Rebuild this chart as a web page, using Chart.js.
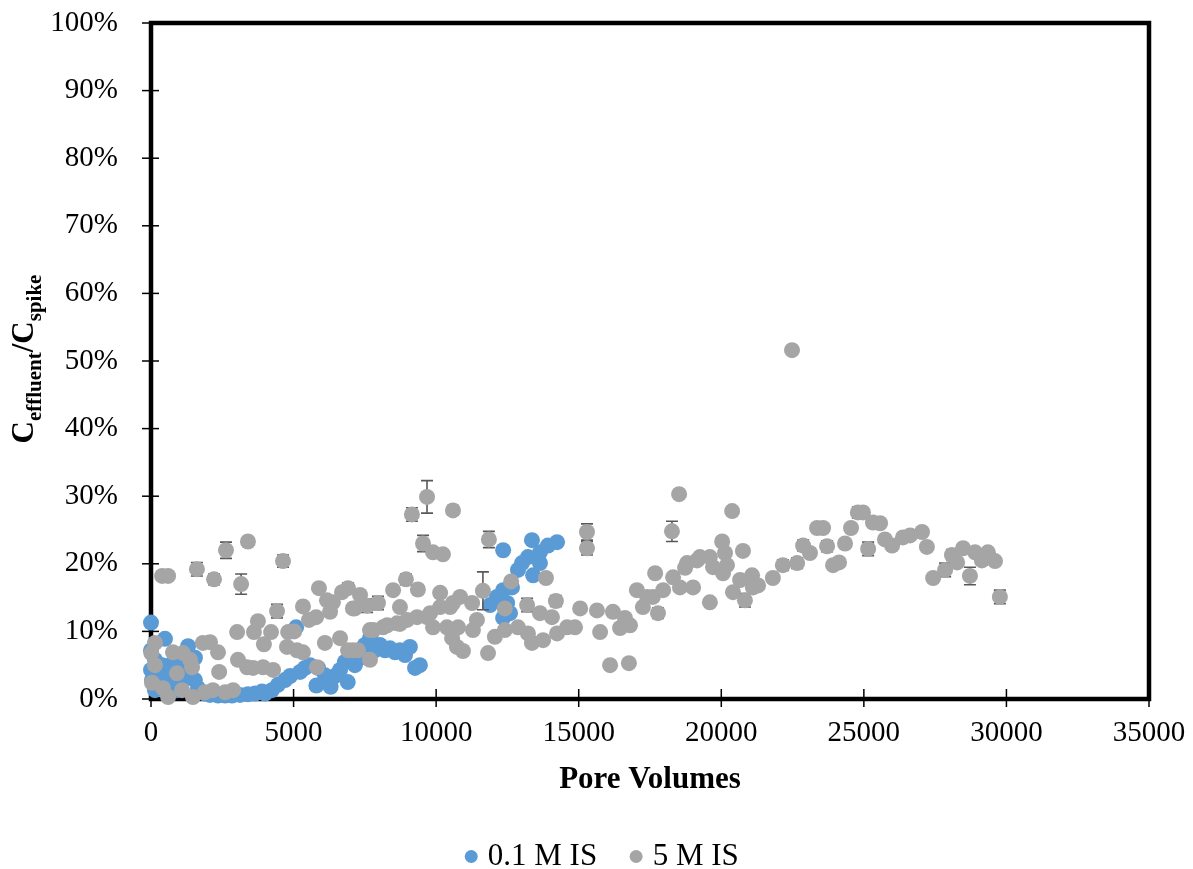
<!DOCTYPE html>
<html>
<head>
<meta charset="utf-8">
<script src="https://cdn.jsdelivr.net/npm/chart.js@4/dist/chart.umd.min.js"></script>
<style>
  html, body { margin: 0; padding: 0; background: #ffffff; }
  #wrap { width: 1193px; height: 869px; }
</style>
</head>
<body>
<div id="wrap"><canvas id="chart" width="1193" height="869"></canvas></div>
<script>
// Series names shown in the legend
const seriesNames = ['0.1 M IS', '5 M IS'];

// 0.1 M ionic strength: pore volumes and C/C0 (%)
const lowIS_x = [0, 0, 0, 35, 140, 140, 245, 245, 320, 390, 490, 600, 670, 770, 840, 910, 1020, 1120, 1190, 1300,
  1370, 1540, 1540, 1650, 1720, 1890, 2070, 2350, 2600, 2840, 3120, 3400, 3650, 3890, 4000, 4240, 4450, 4700, 4880, 5090,
  5230, 5400, 5580, 5800, 5860, 6100, 6280, 6300, 6450, 6630, 6800, 6900, 6980, 7150, 7330, 7500, 7680, 7750, 7850, 8030,
  8210, 8380, 8560, 8730, 8910, 9080, 9260, 9430,
  11890, 12130, 12350, 12350, 12490, 12590, 12350, 12660, 12870, 13010, 13220, 13400, 13640, 13640, 13360, 13920, 14240];
const lowIS_y = [11.3, 7.2, 4.3, 2.8, 5.8, 1.3, 4.3, 2.1, 3.1, 5.0, 8.9, 2.1, 5.0, 3.5, 5.8, 1.3, 4.6, 2.8, 3.5, 7.8,
  5.0, 6.1, 2.8, 1.6, 1.1, 0.8, 0.6, 0.5, 0.5, 0.5, 0.6, 0.7, 0.8, 1.1, 0.8, 1.3, 2.1, 2.8, 3.4, 10.6,
  4.0, 4.6, 5.0, 2.0, 4.6, 3.5, 2.8, 1.8, 3.4, 4.3, 5.5, 2.5, 5.8, 5.0, 6.1, 8.0, 9.0, 9.9, 7.2, 8.0,
  7.2, 7.5, 6.9, 7.2, 6.5, 7.7, 4.6, 5.0,
  13.9, 15.1, 16.1, 12.0, 14.2, 12.7, 22.0, 16.5, 19.1, 20.1, 21.0, 18.3, 20.1, 21.7, 23.5, 22.7, 23.2];

// 5 M ionic strength: pore volumes, C/C0 (%) and error (± %)
const highIS_x = [10, 35, 140, 140, 390, 420, 600, 600, 770, 910, 1090, 1120, 1370, 1440, 1470, 1610, 1820, 1890, 2070, 2170,
  2210, 2350, 2390, 2600, 2630, 2880, 3020, 3050, 3160, 3370, 3400, 3580, 3610, 3750, 3930, 3960, 4210, 4280, 4420, 4630,
  4770, 4810, 5020, 5120, 5330, 5330, 5540, 5790, 5820, 5890, 6100, 6170, 6280, 6380, 6630, 6700, 6910, 6910, 7080, 7080,
  7150, 7260, 7330, 7580, 7680, 7680, 7790, 7960, 8140, 8280, 8490, 8630, 8730, 8730, 8940, 8980, 9150, 9330, 9360, 9540,
  9680, 9680, 9790, 9890, 9890, 10140, 10140, 10240, 10380, 10490, 10560, 10590, 10590, 10730, 10770, 10840, 10940, 11260, 11290, 11430,
  11640, 11820, 11850, 12060, 12410, 12410, 12630, 12870, 13190, 13220, 13360, 13640, 13750, 13850, 14060, 14200, 14240, 14590, 14870, 15050,
  15290, 15290, 15640, 15750, 16100, 16200, 16450, 16620, 16760, 16800, 17040, 17250, 17400, 17600, 17680, 17780, 17960, 18270, 18310, 18520,
  18550, 18730, 18800, 19010, 19150, 19250, 19600, 19600, 19710, 20030, 20060, 20130, 20200, 20380, 20410, 20660, 20760, 20830, 21080, 21110,
  21290, 21810, 22160, 22480, 22660, 22870, 23110, 23360, 23570, 23710, 23920, 24130, 24340, 24550, 24790, 24970, 25150, 25320, 25570, 25740,
  25990, 26370, 26620, 27040, 27210, 27430, 27850, 28090, 28270, 28480, 28720, 28900, 29140, 29350, 29600, 29770];
const highIS_y = [6.8, 2.4, 8.3, 5.0, 18.2, 1.6, 18.2, 0.3, 6.9, 3.8, 1.3, 6.8, 5.8, 4.7, 0.3, 19.2, 8.3, 1.0, 8.4, 1.3,
  17.7, 6.9, 4.0, 1.0, 22.0, 1.3, 9.9, 5.8, 17.0, 4.7, 23.3, 4.6, 9.9, 11.5, 4.7, 8.1, 9.9, 4.3, 13.0, 20.4,
  7.7, 9.9, 10.0, 7.2, 6.9, 13.7, 11.7, 12.1, 4.7, 16.4, 8.3, 14.6, 12.9, 14.3, 9.0, 15.8, 16.4, 7.2, 13.4, 7.2,
  13.4, 7.2, 15.4, 13.8, 10.2, 5.8, 10.2, 14.2, 10.6, 10.9, 16.1, 11.2, 13.6, 11.1, 17.7, 11.7, 27.3, 12.1, 16.2, 23.0,
  29.9, 12.1, 12.7, 21.7, 10.6, 13.6, 15.7, 21.4, 10.6, 13.6, 9.0, 27.9, 14.2, 7.7, 10.6, 15.1, 7.1, 14.2, 10.2, 11.7,
  16.0, 6.8, 23.6, 9.2, 13.4, 10.2, 17.4, 10.6, 13.9, 9.7, 8.3, 12.7, 8.7, 17.9, 12.1, 14.5, 9.7, 10.6, 10.6, 13.4,
  24.7, 22.3, 13.1, 9.9, 5.0, 12.9, 10.5, 12.0, 5.3, 10.9, 16.1, 13.6, 15.1, 15.1, 18.6, 12.7, 16.1, 24.8, 18.0, 30.3,
  16.5, 19.4, 20.1, 16.5, 20.5, 21.0, 21.0, 14.3, 19.5, 23.3, 18.6, 21.6, 19.8, 27.8, 15.8, 17.6, 21.9, 14.6, 18.3, 16.5,
  16.8, 17.9, 19.8, 51.6, 20.1, 22.7, 21.6, 25.3, 25.3, 22.6, 19.8, 20.2, 23.0, 25.3, 27.6, 27.6, 22.2, 26.1, 26.0, 23.6,
  22.7, 23.9, 24.2, 24.7, 22.5, 17.9, 19.1, 21.3, 20.2, 22.3, 18.2, 21.7, 20.5, 21.7, 20.4, 15.1];
const highIS_err = [0, 0, 0, 0, 0, 0, 0, 0, 0, 0, 0, 0, 0, 0, 0, 1.0, 0, 0, 0, 0.4,
  0.8, 0, 0, 0, 1.2, 0, 0, 0, 1.5, 0, 0, 0, 0, 0, 0, 0, 0, 0, 1.0, 0.9,
  0, 0, 0, 0, 0, 0, 0, 0, 0.5, 0, 0, 0, 0, 0, 0, 0, 0.8, 0, 0, 0,
  0, 0, 0, 1.0, 0, 0, 0, 1.0, 0, 0, 0, 0, 0, 0, 0.8, 0, 1.0, 0, 0, 1.2,
  2.4, 0, 0, 0, 0, 0, 0, 0, 0, 0, 0, 0.7, 0, 0, 0, 0, 0, 0, 0, 0,
  2.8, 0, 1.2, 0, 0, 0, 0, 0, 1.0, 0, 0, 0, 0, 0, 0, 0.8, 0, 0, 0, 0,
  1.2, 1.0, 0, 0, 0, 0, 0, 0, 0, 0, 0, 0, 0, 0, 0, 0.8, 0, 1.5, 0, 0,
  0, 0, 0, 0, 0, 0, 0, 0, 0, 0, 0, 0, 0, 0, 0, 0, 0, 1.0, 0, 0,
  0, 0, 0.8, 0, 0.8, 0.8, 0, 0, 0, 0.8, 0, 0.6, 0, 0, 0.8, 0, 1.0, 0, 0, 0,
  0, 0, 0, 0.6, 0, 0, 1.0, 0.8, 0, 0, 1.3, 0, 0.7, 0, 0, 1.0];

// Axis tick values
const xTicks = [0, 5000, 10000, 15000, 20000, 25000, 30000, 35000];
const yTicks = [0, 10, 20, 30, 40, 50, 60, 70, 80, 90, 100];

const FONT = '"Liberation Serif", "Times New Roman", serif';
const BLUE = '#5B9BD5';
const GREY = '#A5A5A5';

const toPoints = (xs, ys) => xs.map((x, i) => ({ x: x, y: ys[i] }));

// Plot frame and tick marks that cross the axis lines
const framePlugin = {
  id: 'frame',
  beforeDatasetsDraw(chart) {
    const { ctx, chartArea: a, scales } = chart;
    ctx.save();
    ctx.strokeStyle = '#000';
    ctx.lineWidth = 1.5;
    yTicks.forEach(v => {
      const py = scales.y.getPixelForValue(v);
      ctx.beginPath(); ctx.moveTo(a.left - 9, py); ctx.lineTo(a.left + 8, py); ctx.stroke();
    });
    xTicks.forEach(v => {
      const px = scales.x.getPixelForValue(v);
      ctx.beginPath(); ctx.moveTo(px, a.bottom - 10); ctx.lineTo(px, a.bottom + 8); ctx.stroke();
    });
    ctx.lineWidth = 4.5;
    ctx.strokeRect(a.left, a.top, a.right - a.left, a.bottom - a.top);
    ctx.restore();
  }
};

// Vertical error bars with caps, drawn under the 5 M IS markers
const errorBarPlugin = {
  id: 'errorBars',
  beforeDatasetDraw(chart, args) {
    if (args.index !== 1) return;
    const { ctx, scales } = chart;
    ctx.save();
    ctx.strokeStyle = '#595959';
    ctx.lineWidth = 1.6;
    highIS_err.forEach((e, i) => {
      if (!e) return;
      const px = scales.x.getPixelForValue(highIS_x[i]);
      const y1 = scales.y.getPixelForValue(highIS_y[i] + e);
      const y2 = scales.y.getPixelForValue(highIS_y[i] - e);
      ctx.beginPath();
      ctx.moveTo(px, y1); ctx.lineTo(px, y2);
      ctx.moveTo(px - 6, y1); ctx.lineTo(px + 6, y1);
      ctx.moveTo(px - 6, y2); ctx.lineTo(px + 6, y2);
      ctx.stroke();
    });
    ctx.restore();
  }
};

// Y-axis title with subscripts: C_effluent / C_spike
const yTitlePlugin = {
  id: 'yTitle',
  afterDraw(chart) {
    const { ctx } = chart;
    const big = 'bold 31px ' + FONT;
    const small = 'bold 21px ' + FONT;
    const parts = [['C', big, 0], ['effluent', small, 8], ['/C', big, 0], ['spike', small, 8]];
    ctx.save();
    let total = 0;
    parts.forEach(p => { ctx.font = p[1]; p.push(ctx.measureText(p[0]).width); total += p[3]; });
    ctx.translate(33, 359);
    ctx.rotate(-Math.PI / 2);
    ctx.fillStyle = '#000';
    ctx.textBaseline = 'alphabetic';
    ctx.textAlign = 'left';
    let cx = -total / 2;
    parts.forEach(p => { ctx.font = p[1]; ctx.fillText(p[0], cx, p[2]); cx += p[3]; });
    ctx.restore();
  }
};

// Place the legend row below the axis title
const legendPlacePlugin = {
  id: 'legendPlace',
  afterLayout(chart) {
    const lg = chart.legend;
    if (!lg) return;
    lg.top = 803;
    lg.bottom = 869;
    lg.height = lg.bottom - lg.top;
    const dx = 30;
    lg.left += dx; lg.right += dx;
  }
};

new Chart(document.getElementById('chart'), {
  type: 'scatter',
  data: {
    datasets: [
      {
        label: seriesNames[0],
        data: toPoints(lowIS_x, lowIS_y),
        backgroundColor: BLUE, borderColor: BLUE, borderWidth: 0,
        pointRadius: 8, pointHoverRadius: 8, order: 1, clip: false
      },
      {
        label: seriesNames[1],
        data: toPoints(highIS_x, highIS_y),
        backgroundColor: GREY, borderColor: GREY, borderWidth: 0,
        pointRadius: 8, pointHoverRadius: 8, order: 0, clip: false
      }
    ]
  },
  options: {
    responsive: false,
    animation: false,
    devicePixelRatio: 1,
    events: [],
    layout: { autoPadding: false, padding: { top: 23, right: 44, left: 0, bottom: 0 } },
    scales: {
      x: {
        type: 'linear', min: 0, max: 35000,
        afterFit: s => { s.height = 130; s.paddingLeft = 0; s.paddingRight = 0; },
        afterBuildTicks: s => { s.ticks = xTicks.map(v => ({ value: v })); },
        grid: { display: false, drawTicks: false, tickLength: 0 },
        border: { display: false },
        ticks: {
          color: '#000', font: { family: FONT, size: 29 }, padding: 17,
          maxRotation: 0, autoSkip: false, callback: v => String(v)
        },
        title: {
          display: true, text: 'Pore Volumes', color: '#000',
          font: { family: FONT, size: 31, weight: 'bold' },
          padding: { top: 0, bottom: 30 }
        }
      },
      y: {
        type: 'linear', min: 0, max: 100,
        afterFit: s => { s.width = 151; s.paddingTop = 0; s.paddingBottom = 0; },
        afterBuildTicks: s => { s.ticks = yTicks.map(v => ({ value: v })); },
        grid: { display: false, drawTicks: false, tickLength: 0 },
        border: { display: false },
        ticks: {
          color: '#000', font: { family: FONT, size: 29 }, padding: 33,
          autoSkip: false, callback: v => v + '%'
        }
      }
    },
    plugins: {
      tooltip: { enabled: false },
      legend: {
        display: true, position: 'bottom', maxHeight: 40,
        labels: {
          color: '#000', font: { family: FONT, size: 31 },
          usePointStyle: true, pointStyle: 'circle', boxWidth: 2, boxHeight: 9.2,
          padding: 38,
          sort: (a, b) => a.datasetIndex - b.datasetIndex
        }
      }
    }
  },
  plugins: [framePlugin, errorBarPlugin, yTitlePlugin, legendPlacePlugin]
});
</script>
</body>
</html>
